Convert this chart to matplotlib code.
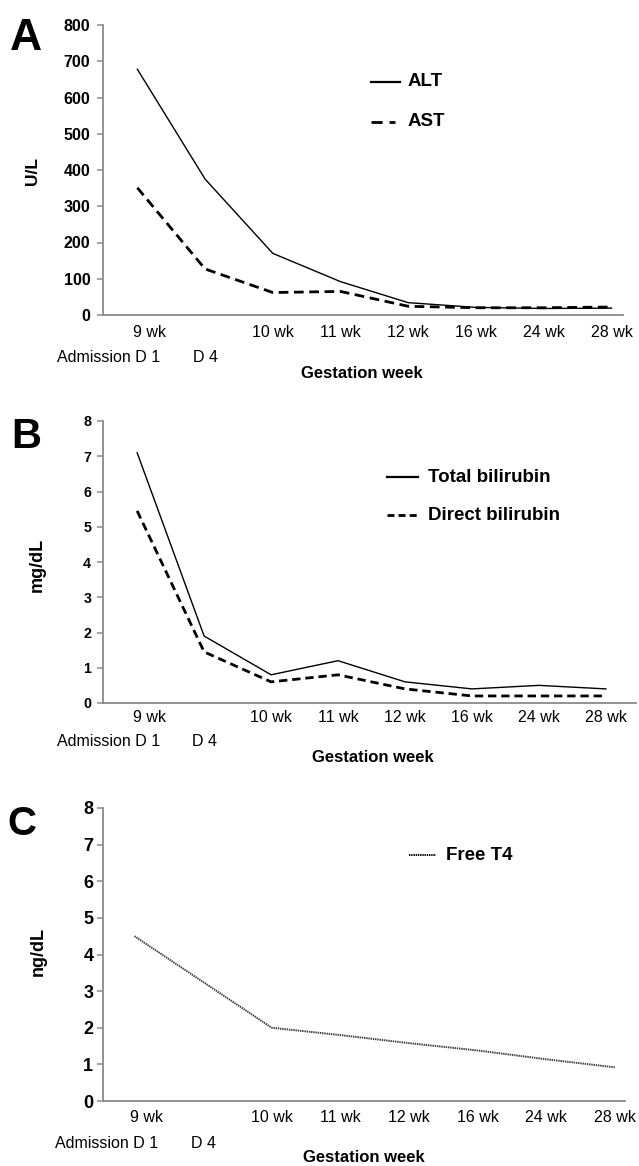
import numpy as np
import matplotlib.pyplot as plt
from matplotlib import transforms

plt.rcParams['font.family'] = ['Liberation Sans', 'DejaVu Sans']
plt.rcParams['lines.scale_dashes'] = False

W, H = 639, 1166

# categories on the x axis (8 visits, D 4 has no week label)
weeks = ['9 wk', '', '10 wk', '11 wk', '12 wk', '16 wk', '24 wk', '28 wk']
days = ['Admission D 1', 'D 4']

# panel A, U/L
alt = [678, 375, 170, 92, 34, 21, 18, 19]
ast = [351, 127, 62, 65, 24, 20, 20, 22]
# panel B, mg/dL
total_bili = [7.1, 1.9, 0.8, 1.2, 0.6, 0.4, 0.5, 0.4]
direct_bili = [5.45, 1.45, 0.6, 0.8, 0.4, 0.2, 0.2, 0.2]
# panel C, ng/dL (no value on D 4)
free_t4 = [4.5, None, 2.0, 1.8, 1.58, 1.38, 1.14, 0.92]

fig = plt.figure(figsize=(W / 100, H / 100), dpi=100)
fig.patch.set_facecolor('white')

GRAY = '#8a8a8a'


def fx(x):
    return x / W


def fy(y):
    return 1 - y / H


def make_axes(l, t, r, b, xlim, ylim, yticks, tsize, tpad):
    ax = fig.add_axes([fx(l), fy(b), (r - l) / W, (b - t) / H])
    ax.set_xlim(*xlim)
    ax.set_ylim(*ylim)
    ax.set_xticks([])
    ax.set_yticks(yticks)
    ax.tick_params(axis='y', length=4.5, width=1.1, color=GRAY,
                   labelsize=tsize, pad=tpad)
    for lab in ax.get_yticklabels():
        lab.set_fontweight('bold')
    for s in ['top', 'right']:
        ax.spines[s].set_visible(False)
    for s in ['left', 'bottom']:
        ax.spines[s].set_color(GRAY)
        ax.spines[s].set_linewidth(1.3)
    return ax


def xlabels(ax, y_tick, y_day, y_title, x_title):
    tr = transforms.blended_transform_factory(ax.transData, fig.transFigure)
    for i, w in enumerate(weeks):
        if w == '':
            continue
        xi = i + 0.18 if i == 0 else i
        ax.text(xi, fy(y_tick), w, transform=tr, ha='center', va='center',
                fontsize=11.5)
    ax.text(0.34, fy(y_day), days[0], transform=tr, ha='right', va='center',
            fontsize=11.5)
    ax.text(1, fy(y_day), days[1], transform=tr, ha='center', va='center',
            fontsize=11.5)
    fig.text(fx(x_title), fy(y_title), 'Gestation week', ha='center',
             va='center', fontsize=12, fontweight='bold')


def legend_item(x0, x1, y, xt, label, **style):
    fig.add_artist(plt.Line2D([fx(x0), fx(x1)], [fy(y), fy(y)],
                              transform=fig.transFigure, color='black', **style))
    fig.text(fx(xt), fy(y), label, ha='left', va='center', fontsize=13.5,
             fontweight='bold')


idx = np.arange(len(weeks))

# ---- A
axA = make_axes(103, 25, 623, 315, (-0.507, 7.17), (0, 800),
                range(0, 801, 100), 11.5, 4.5)
axA.plot(idx, alt, color='black', lw=1.0)
axA.plot(idx, ast, color='black', lw=2.0, dashes=(7, 4))
xlabels(axA, 332, 357, 374, 362)
fig.text(fx(10), fy(50), 'A', ha='left', va='baseline', fontsize=32,
         fontweight='bold')
fig.text(fx(33), fy(171), 'U/L', rotation=90, ha='center', va='center',
         fontsize=12.5, fontweight='bold')
legend_item(371, 400, 82, 408, 'ALT', lw=1.6)
legend_item(371, 395, 122, 408, 'AST', lw=2.0, dashes=(8, 5))

# ---- B
axB = make_axes(103, 421, 636, 703, (-0.51, 7.45), (0, 8),
                range(0, 9), 10.3, 4)
axB.plot(idx, total_bili, color='black', lw=1.0)
axB.plot(idx, direct_bili, color='black', lw=2.0, dashes=(6, 3.5))
xlabels(axB, 717, 741, 757, 373)
fig.text(fx(11), fy(448), 'B', ha='left', va='baseline', fontsize=30,
         fontweight='bold')
fig.text(fx(37), fy(565), 'mg/dL', rotation=90, ha='center', va='center',
         fontsize=13, fontweight='bold')
legend_item(387, 418, 477, 428, 'Total bilirubin', lw=1.6)
legend_item(387, 418, 515, 428, 'Direct bilirubin', lw=2.0, dashes=(5, 3))

# ---- C
axC = make_axes(103, 808, 625, 1101, (-0.46, 7.15), (0, 8),
                range(0, 9), 13, 2.5)
t4x = [i for i, v in zip(idx, free_t4) if v is not None]
t4y = [v for v in free_t4 if v is not None]
axC.plot(t4x, t4y, color='#3a3a3a', lw=1.4, dashes=(1, 0.6))
xlabels(axC, 1117, 1143, 1158, 364)
fig.text(fx(7), fy(835), 'C', ha='left', va='baseline', fontsize=29,
         fontweight='bold')
fig.text(fx(38), fy(952), 'ng/dL', rotation=90, ha='center', va='center',
         fontsize=13, fontweight='bold')
legend_item(409, 436, 855, 446, 'Free T4', lw=1.4, dashes=(1, 0.6))

fig.savefig('out.png', dpi=100)
